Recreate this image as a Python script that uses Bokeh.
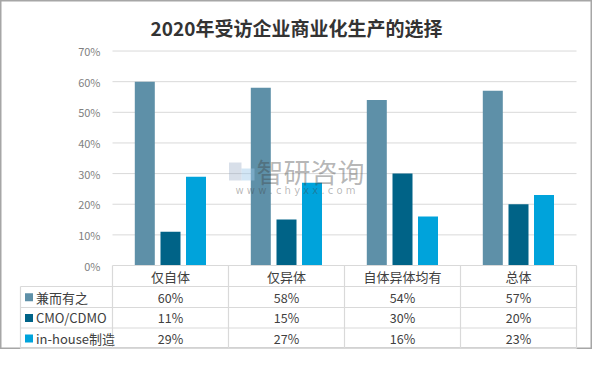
from bokeh.plotting import figure
from bokeh.models import Range1d
from bokeh.core.properties import value
from bokeh.embed import file_html
from bokeh.resources import INLINE

# ---- data ----
categories = ["仅自体", "仅异体", "自体异体均有", "总体"]
series_names = ["兼而有之", "CMO/CDMO", "in-house制造"]
jian_er_you_zhi = [60, 58, 54, 57]
cmo_cdmo = [11, 15, 30, 20]
in_house = [29, 27, 16, 23]
y_ticks = [0, 10, 20, 30, 40, 50, 60, 70]
y_tick_labels = ["0%", "10%", "20%", "30%", "40%", "50%", "60%", "70%"]
title_text = "2020年受访企业商业化生产的选择"

colors = ["#5E90A8", "#006387", "#00A3DB"]
FONT = "Noto Sans CJK SC"

# ---- layout helpers (canvas pixel -> data coordinates) ----
W, H = 592, 349
X0, CW = 112.0, 116.0      # left edge of first category, category width (px)
Y0, PPP = 265.0, 3.064     # zero line (px), pixels per percent


def dx(px):
    return (px - X0) / CW


def dy(py):
    return (Y0 - py) / PPP


p = figure(width=W, height=H, output_backend="svg", toolbar_location=None,
           x_range=Range1d(dx(0), dx(W)),
           y_range=Range1d(dy(H), dy(0)),
           x_axis_location=None, y_axis_location=None, min_border=0,
           background_fill_color="white", border_fill_color="white")
p.grid.visible = False
p.outline_line_color = "#A6A6A6"
p.outline_line_width = 2

GRID = "#D9D9D9"
n = len(categories)

# gridlines
gt = [t for t in y_ticks if t > 0]
p.segment(x0=[0] * len(gt), x1=[n] * len(gt), y0=gt, y1=gt, line_color=GRID, line_width=1)

# y tick labels
p.text(x=[dx(100)] * len(y_ticks), y=y_ticks, text=y_tick_labels,
       text_align="right", text_baseline="middle", text_font=value(FONT),
       text_font_size="11px", text_color="#7F7F7F")

# bars
bw = 20.0 / CW
offs = [-25.7 / CW, 0.0, 25.5 / CW]
all_series = [jian_er_you_zhi, cmo_cdmo, in_house]
for s, vals in enumerate(all_series):
    xs = [i + 0.5 + offs[s] for i in range(n)]
    p.vbar(x=xs, top=vals, bottom=0, width=bw, fill_color=colors[s], line_color=None)

# ---- data table ----
row_lines_px = [286.0, 307.0, 327.5, 348.0]
legend_left = dx(20)
p.segment(x0=[0], x1=[n], y0=[0], y1=[0], line_color=GRID, line_width=1.2)
ry = [dy(v) for v in row_lines_px]
p.segment(x0=[legend_left] * len(ry), x1=[n] * len(ry), y0=ry, y1=ry,
          line_color=GRID, line_width=1.2)
vx = list(range(n + 1))
p.segment(x0=vx, x1=vx, y0=[0] * len(vx), y1=[ry[-1]] * len(vx), line_color=GRID, line_width=1.2)
p.segment(x0=[legend_left], x1=[legend_left], y0=[ry[0]], y1=[ry[-1]], line_color=GRID, line_width=1.2)

# header labels
p.text(x=[i + 0.5 for i in range(n)], y=[dy(275.8)] * n, text=categories,
       text_align="center", text_baseline="middle", text_font=value(FONT),
       text_font_size="13px", text_color="#404040")

row_centers = [dy(296.7), dy(317.4), dy(337.9)]
for s, vals in enumerate(all_series):
    p.text(x=[i + 0.5 for i in range(n)], y=[row_centers[s]] * n,
           text=[f"{v}%" for v in vals], text_align="center", text_baseline="middle",
           text_font=value(FONT), text_font_size="12.5px", text_color="#404040")

# legend keys and labels
p.scatter(x=[dx(28.5)] * 3, y=row_centers, marker="square", size=8,
          fill_color=colors, line_color=None)
p.text(x=[dx(35.5)] * 3, y=row_centers, text=series_names, text_align="left",
       text_baseline="middle", text_font=value(FONT), text_font_size="13px",
       text_color="#404040")

# watermark
p.text(x=[dx(310)], y=[dy(171)], text=["智研咨询"], text_align="center",
       text_baseline="middle", text_font=value(FONT), text_font_size="27px",
       text_color="#404040", text_alpha=0.38)
p.text(x=[dx(295)], y=[dy(189.5)], text=["w w w . c h y x x . c o m"], text_align="center",
       text_baseline="middle", text_font=value("DejaVu Sans"), text_font_size="10px",
       text_color="#404040", text_alpha=0.38)
p.quad(left=[dx(228.5)], right=[dx(241)], top=[dy(162)], bottom=[dy(180)],
       fill_color="#8FA3BF", fill_alpha=0.35, line_color=None)
p.quad(left=[dx(241)], right=[dx(254)], top=[dy(168)], bottom=[dy(180)],
       fill_color="#9CC7E8", fill_alpha=0.45, line_color=None)

# title
p.text(x=[dx(296)], y=[dy(27)], text=[title_text], text_align="center",
       text_baseline="middle", text_font=value(FONT), text_font_size="19px",
       text_font_style="bold", text_color="#333333")

open("out.html", "w").write(file_html(p, INLINE))
